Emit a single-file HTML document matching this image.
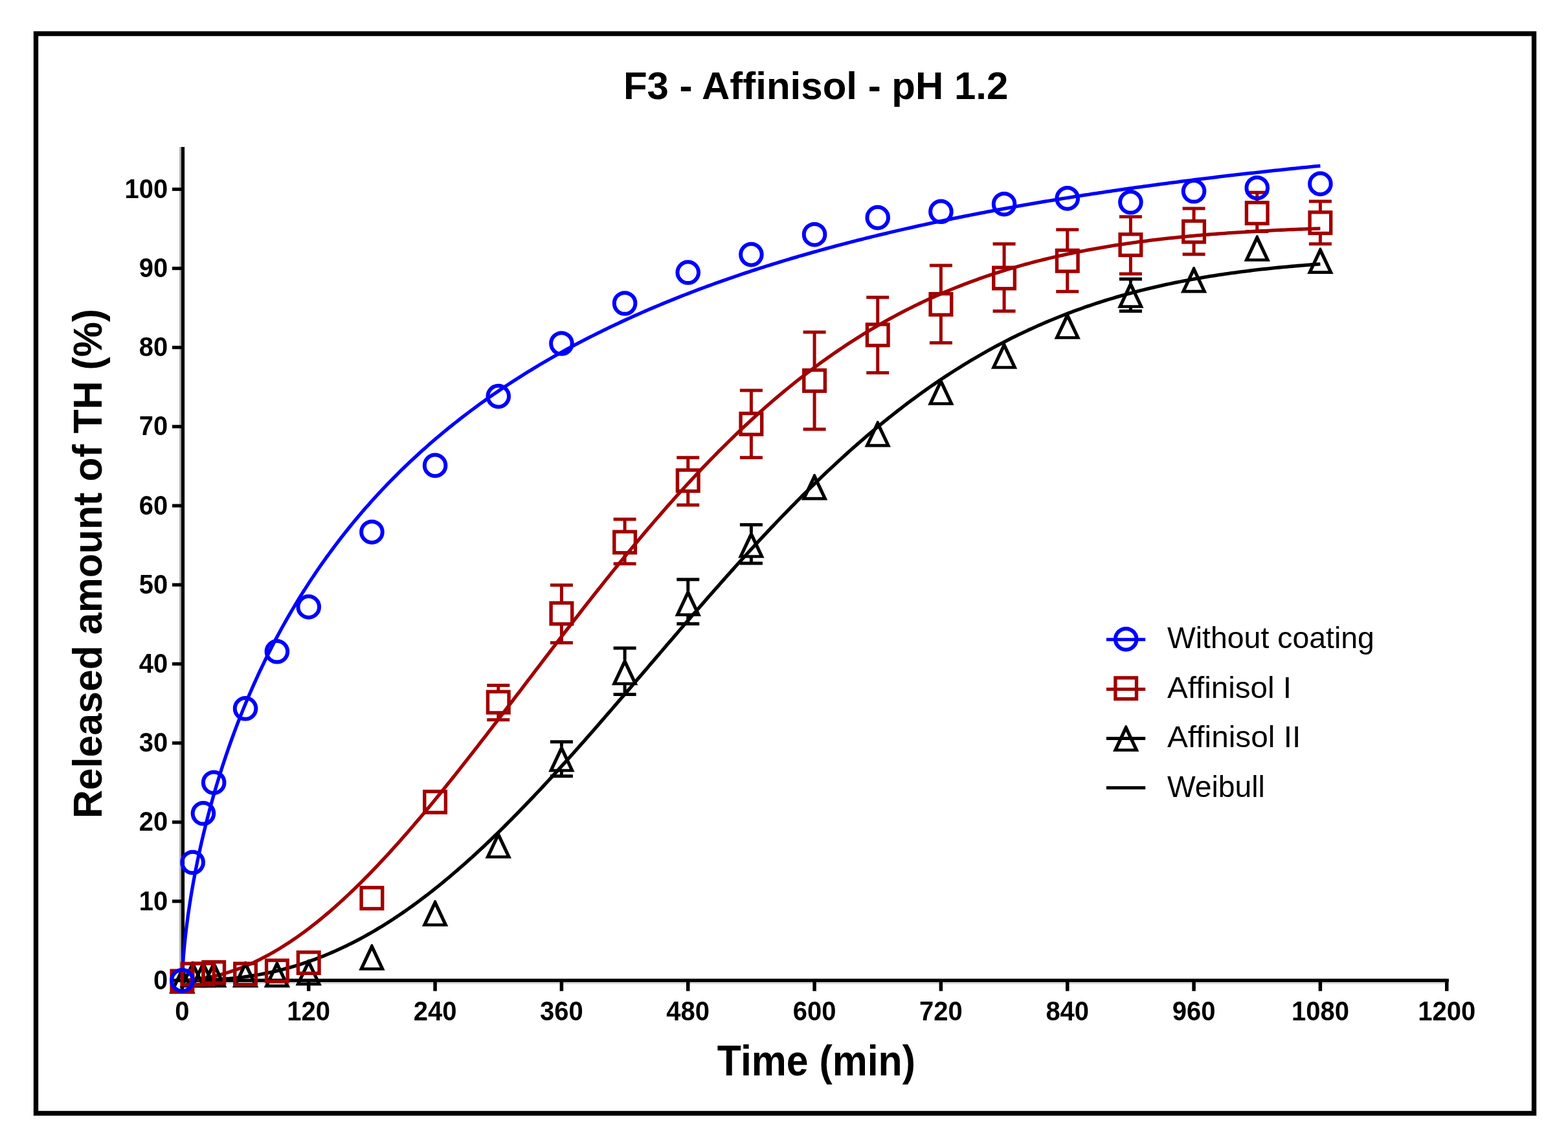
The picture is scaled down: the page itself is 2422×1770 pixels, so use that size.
<!DOCTYPE html><html><head><meta charset="utf-8"><style>html,body{margin:0;padding:0;background:#fff;}svg{display:block}</style></head><body>
<svg width="2422" height="1770" viewBox="0 0 2422 1770">
<rect x="0" y="0" width="2422" height="1770" fill="#fff"/>
<rect x="55.5" y="52" width="2314" height="1667.5" fill="none" stroke="#000" stroke-width="7.4"/>
<text x="962.9" y="152.8" font-family="Liberation Sans, Arial, sans-serif" font-weight="bold" font-size="60">F3 - Affinisol - pH 1.2</text>
<rect x="277.2" y="227" width="2.9" height="1291" fill="#aaa"/>
<rect x="280" y="227" width="5.1" height="1290" fill="#000"/>
<rect x="280" y="1516.9" width="1953" height="2.9" fill="#dadada"/>
<rect x="280" y="1511.6" width="1957.9" height="5.3" fill="#000"/>
<rect x="266" y="1511.60" width="15" height="5.2" fill="#000"/>
<text transform="translate(259.2,1527.70) scale(1,1.06)" text-anchor="end" font-family="Liberation Sans, Arial, sans-serif" font-weight="bold" font-size="40">0</text>
<rect x="266" y="1389.41" width="15" height="5.2" fill="#000"/>
<text transform="translate(259.2,1405.51) scale(1,1.06)" text-anchor="end" font-family="Liberation Sans, Arial, sans-serif" font-weight="bold" font-size="40">10</text>
<rect x="266" y="1267.22" width="15" height="5.2" fill="#000"/>
<text transform="translate(259.2,1283.32) scale(1,1.06)" text-anchor="end" font-family="Liberation Sans, Arial, sans-serif" font-weight="bold" font-size="40">20</text>
<rect x="266" y="1145.03" width="15" height="5.2" fill="#000"/>
<text transform="translate(259.2,1161.13) scale(1,1.06)" text-anchor="end" font-family="Liberation Sans, Arial, sans-serif" font-weight="bold" font-size="40">30</text>
<rect x="266" y="1022.84" width="15" height="5.2" fill="#000"/>
<text transform="translate(259.2,1038.94) scale(1,1.06)" text-anchor="end" font-family="Liberation Sans, Arial, sans-serif" font-weight="bold" font-size="40">40</text>
<rect x="266" y="900.65" width="15" height="5.2" fill="#000"/>
<text transform="translate(259.2,916.75) scale(1,1.06)" text-anchor="end" font-family="Liberation Sans, Arial, sans-serif" font-weight="bold" font-size="40">50</text>
<rect x="266" y="778.46" width="15" height="5.2" fill="#000"/>
<text transform="translate(259.2,794.56) scale(1,1.06)" text-anchor="end" font-family="Liberation Sans, Arial, sans-serif" font-weight="bold" font-size="40">60</text>
<rect x="266" y="656.27" width="15" height="5.2" fill="#000"/>
<text transform="translate(259.2,672.37) scale(1,1.06)" text-anchor="end" font-family="Liberation Sans, Arial, sans-serif" font-weight="bold" font-size="40">70</text>
<rect x="266" y="534.08" width="15" height="5.2" fill="#000"/>
<text transform="translate(259.2,550.18) scale(1,1.06)" text-anchor="end" font-family="Liberation Sans, Arial, sans-serif" font-weight="bold" font-size="40">80</text>
<rect x="266" y="411.89" width="15" height="5.2" fill="#000"/>
<text transform="translate(259.2,427.99) scale(1,1.06)" text-anchor="end" font-family="Liberation Sans, Arial, sans-serif" font-weight="bold" font-size="40">90</text>
<rect x="266" y="289.70" width="15" height="5.2" fill="#000"/>
<text transform="translate(259.2,305.80) scale(1,1.06)" text-anchor="end" font-family="Liberation Sans, Arial, sans-serif" font-weight="bold" font-size="40">100</text>
<rect x="278.65" y="1514" width="5.5" height="16.7" fill="#000"/>
<text transform="translate(281.40,1576.4) scale(1,1.06)" text-anchor="middle" font-family="Liberation Sans, Arial, sans-serif" font-weight="bold" font-size="40">0</text>
<rect x="473.98" y="1514" width="5.5" height="16.7" fill="#000"/>
<text transform="translate(476.73,1576.4) scale(1,1.06)" text-anchor="middle" font-family="Liberation Sans, Arial, sans-serif" font-weight="bold" font-size="40">120</text>
<rect x="669.32" y="1514" width="5.5" height="16.7" fill="#000"/>
<text transform="translate(672.07,1576.4) scale(1,1.06)" text-anchor="middle" font-family="Liberation Sans, Arial, sans-serif" font-weight="bold" font-size="40">240</text>
<rect x="864.65" y="1514" width="5.5" height="16.7" fill="#000"/>
<text transform="translate(867.40,1576.4) scale(1,1.06)" text-anchor="middle" font-family="Liberation Sans, Arial, sans-serif" font-weight="bold" font-size="40">360</text>
<rect x="1059.98" y="1514" width="5.5" height="16.7" fill="#000"/>
<text transform="translate(1062.73,1576.4) scale(1,1.06)" text-anchor="middle" font-family="Liberation Sans, Arial, sans-serif" font-weight="bold" font-size="40">480</text>
<rect x="1255.32" y="1514" width="5.5" height="16.7" fill="#000"/>
<text transform="translate(1258.07,1576.4) scale(1,1.06)" text-anchor="middle" font-family="Liberation Sans, Arial, sans-serif" font-weight="bold" font-size="40">600</text>
<rect x="1450.65" y="1514" width="5.5" height="16.7" fill="#000"/>
<text transform="translate(1453.40,1576.4) scale(1,1.06)" text-anchor="middle" font-family="Liberation Sans, Arial, sans-serif" font-weight="bold" font-size="40">720</text>
<rect x="1645.99" y="1514" width="5.5" height="16.7" fill="#000"/>
<text transform="translate(1648.74,1576.4) scale(1,1.06)" text-anchor="middle" font-family="Liberation Sans, Arial, sans-serif" font-weight="bold" font-size="40">840</text>
<rect x="1841.32" y="1514" width="5.5" height="16.7" fill="#000"/>
<text transform="translate(1844.07,1576.4) scale(1,1.06)" text-anchor="middle" font-family="Liberation Sans, Arial, sans-serif" font-weight="bold" font-size="40">960</text>
<rect x="2036.65" y="1514" width="5.5" height="16.7" fill="#000"/>
<text transform="translate(2039.40,1576.4) scale(1,1.06)" text-anchor="middle" font-family="Liberation Sans, Arial, sans-serif" font-weight="bold" font-size="40">1080</text>
<rect x="2231.99" y="1514" width="5.5" height="16.7" fill="#000"/>
<text transform="translate(2234.74,1576.4) scale(1,1.06)" text-anchor="middle" font-family="Liberation Sans, Arial, sans-serif" font-weight="bold" font-size="40">1200</text>
<text transform="translate(1108.8,1661.4) scale(0.935,1.02)" x="-1" y="0" font-family="Liberation Sans, Arial, sans-serif" font-weight="bold" font-size="65">Time (min)</text>
<text transform="translate(156.8,1260.1) rotate(-90) scale(0.997,1.035)" x="-4" y="0" font-family="Liberation Sans, Arial, sans-serif" font-weight="bold" font-size="61">Released amount of TH (%)</text>
<polyline points="281.40,1514.20 281.40,1514.20 281.40,1514.20 281.40,1514.20 281.41,1514.20 281.42,1514.20 281.43,1514.20 281.45,1514.20 281.48,1514.20 281.52,1514.20 281.56,1514.20 281.61,1514.20 281.67,1514.20 281.75,1514.20 281.83,1514.20 281.93,1514.20 282.05,1514.20 282.18,1514.20 282.32,1514.20 282.49,1514.20 282.67,1514.20 282.87,1514.20 283.09,1514.20 283.33,1514.20 283.59,1514.20 283.88,1514.20 284.19,1514.20 284.52,1514.20 284.88,1514.20 285.27,1514.20 285.68,1514.20 286.12,1514.20 286.59,1514.20 287.10,1514.20 287.63,1514.20 288.20,1514.20 288.80,1514.20 289.43,1514.20 290.10,1514.20 290.80,1514.19 291.54,1514.19 292.32,1514.19 293.14,1514.18 294.00,1514.18 294.90,1514.17 295.84,1514.17 296.83,1514.16 297.86,1514.15 298.93,1514.14 300.05,1514.13 301.21,1514.11 302.43,1514.10 303.69,1514.08 305.00,1514.06 306.36,1514.03 307.77,1514.01 309.24,1513.97 310.76,1513.94 312.33,1513.90 313.96,1513.86 318.28,1513.72 322.60,1513.56 326.93,1513.37 331.25,1513.15 335.58,1512.91 339.90,1512.63 344.23,1512.32 348.55,1511.98 352.88,1511.61 357.20,1511.21 361.52,1510.77 365.85,1510.30 370.17,1509.80 374.50,1509.26 378.82,1508.68 383.15,1508.07 387.47,1507.42 391.80,1506.73 396.12,1506.00 400.44,1505.24 404.77,1504.44 409.09,1503.60 413.42,1502.72 417.74,1501.80 422.07,1500.84 426.39,1499.84 430.72,1498.80 435.04,1497.72 439.36,1496.60 443.69,1495.43 448.01,1494.23 452.34,1492.98 456.66,1491.69 460.99,1490.36 465.31,1488.98 469.64,1487.57 473.96,1486.10 478.28,1484.60 482.61,1483.05 486.93,1481.46 491.26,1479.83 495.58,1478.15 499.91,1476.43 504.23,1474.67 508.55,1472.86 512.88,1471.01 517.20,1469.11 521.53,1467.17 525.85,1465.19 530.18,1463.16 534.50,1461.08 538.83,1458.97 543.15,1456.81 547.47,1454.60 551.80,1452.35 556.12,1450.06 560.45,1447.72 564.77,1445.34 569.10,1442.91 573.42,1440.45 577.75,1437.93 582.07,1435.38 586.39,1432.78 590.72,1430.14 595.04,1427.45 599.37,1424.72 603.69,1421.95 608.02,1419.13 612.34,1416.28 616.67,1413.38 620.99,1410.44 625.31,1407.45 629.64,1404.43 633.96,1401.36 638.29,1398.25 642.61,1395.10 646.94,1391.91 651.26,1388.68 655.59,1385.41 659.91,1382.10 664.23,1378.75 668.56,1375.36 672.88,1371.93 677.21,1368.46 681.53,1364.95 685.86,1361.41 690.18,1357.82 694.51,1354.20 698.83,1350.54 703.15,1346.85 707.48,1343.12 711.80,1339.35 716.13,1335.55 720.45,1331.71 724.78,1327.84 729.10,1323.93 733.43,1319.99 737.75,1316.01 742.07,1312.00 746.40,1307.96 750.72,1303.89 755.05,1299.78 759.37,1295.64 763.70,1291.48 768.02,1287.28 772.34,1283.05 776.67,1278.79 780.99,1274.50 785.32,1270.18 789.64,1265.84 793.97,1261.47 798.29,1257.07 802.62,1252.64 806.94,1248.19 811.26,1243.71 815.59,1239.20 819.91,1234.68 824.24,1230.12 828.56,1225.55 832.89,1220.95 837.21,1216.33 841.54,1211.68 845.86,1207.02 850.18,1202.33 854.51,1197.63 858.83,1192.90 863.16,1188.15 867.48,1183.39 871.81,1178.61 876.13,1173.81 880.46,1168.99 884.78,1164.16 889.10,1159.31 893.43,1154.45 897.75,1149.57 902.08,1144.68 906.40,1139.77 910.73,1134.85 915.05,1129.92 919.38,1124.98 923.70,1120.03 928.02,1115.06 932.35,1110.09 936.67,1105.10 941.00,1100.11 945.32,1095.11 949.65,1090.10 953.97,1085.09 958.30,1080.06 962.62,1075.04 966.94,1070.00 971.27,1064.96 975.59,1059.92 979.92,1054.88 984.24,1049.83 988.57,1044.78 992.89,1039.72 997.22,1034.67 1001.54,1029.61 1005.86,1024.56 1010.19,1019.51 1014.51,1014.45 1018.84,1009.40 1023.16,1004.35 1027.49,999.30 1031.81,994.26 1036.14,989.22 1040.46,984.18 1044.78,979.15 1049.11,974.13 1053.43,969.11 1057.76,964.09 1062.08,959.09 1066.41,954.09 1070.73,949.10 1075.05,944.12 1079.38,939.14 1083.70,934.18 1088.03,929.23 1092.35,924.29 1096.68,919.35 1101.00,914.43 1105.33,909.53 1109.65,904.63 1113.97,899.75 1118.30,894.88 1122.62,890.03 1126.95,885.18 1131.27,880.36 1135.60,875.55 1139.92,870.75 1144.25,865.98 1148.57,861.21 1152.89,856.47 1157.22,851.74 1161.54,847.03 1165.87,842.34 1170.19,837.67 1174.52,833.01 1178.84,828.38 1183.17,823.77 1187.49,819.17 1191.81,814.60 1196.14,810.05 1200.46,805.51 1204.79,801.00 1209.11,796.52 1213.44,792.05 1217.76,787.61 1222.09,783.19 1226.41,778.79 1230.73,774.42 1235.06,770.07 1239.38,765.74 1243.71,761.44 1248.03,757.17 1252.36,752.91 1256.68,748.69 1261.01,744.49 1265.33,740.31 1269.65,736.16 1273.98,732.04 1278.30,727.94 1282.63,723.88 1286.95,719.83 1291.28,715.82 1295.60,711.83 1299.93,707.87 1304.25,703.94 1308.57,700.03 1312.90,696.15 1317.22,692.30 1321.55,688.48 1325.87,684.69 1330.20,680.93 1334.52,677.19 1338.85,673.49 1343.17,669.81 1347.49,666.16 1351.82,662.55 1356.14,658.96 1360.47,655.40 1364.79,651.87 1369.12,648.37 1373.44,644.90 1377.76,641.46 1382.09,638.05 1386.41,634.66 1390.74,631.31 1395.06,627.99 1399.39,624.70 1403.71,621.44 1408.04,618.21 1412.36,615.01 1416.68,611.84 1421.01,608.70 1425.33,605.59 1429.66,602.51 1433.98,599.46 1438.31,596.44 1442.63,593.45 1446.96,590.49 1451.28,587.56 1455.60,584.66 1459.93,581.79 1464.25,578.96 1468.58,576.15 1472.90,573.37 1477.23,570.62 1481.55,567.90 1485.88,565.21 1490.20,562.55 1494.52,559.92 1498.85,557.31 1503.17,554.74 1507.50,552.20 1511.82,549.68 1516.15,547.20 1520.47,544.74 1524.80,542.31 1529.12,539.92 1533.44,537.55 1537.77,535.20 1542.09,532.89 1546.42,530.60 1550.74,528.35 1555.07,526.12 1559.39,523.92 1563.72,521.74 1568.04,519.60 1572.36,517.48 1576.69,515.38 1581.01,513.32 1585.34,511.28 1589.66,509.27 1593.99,507.29 1598.31,505.33 1602.64,503.39 1606.96,501.49 1611.28,499.61 1615.61,497.75 1619.93,495.92 1624.26,494.12 1628.58,492.34 1632.91,490.58 1637.23,488.86 1641.56,487.15 1645.88,485.47 1650.20,483.81 1654.53,482.18 1658.85,480.57 1663.18,478.99 1667.50,477.42 1671.83,475.89 1676.15,474.37 1680.47,472.88 1684.80,471.41 1689.12,469.96 1693.45,468.53 1697.77,467.13 1702.10,465.74 1706.42,464.38 1710.75,463.04 1715.07,461.72 1719.39,460.43 1723.72,459.15 1728.04,457.89 1732.37,456.66 1736.69,455.44 1741.02,454.24 1745.34,453.07 1749.67,451.91 1753.99,450.77 1758.31,449.65 1762.64,448.55 1766.96,447.47 1771.29,446.40 1775.61,445.36 1779.94,444.33 1784.26,443.32 1788.59,442.32 1792.91,441.35 1797.23,440.39 1801.56,439.45 1805.88,438.52 1810.21,437.61 1814.53,436.72 1818.86,435.84 1823.18,434.98 1827.51,434.13 1831.83,433.30 1836.15,432.49 1840.48,431.69 1844.80,430.90 1849.13,430.13 1853.45,429.38 1857.78,428.63 1862.10,427.91 1866.43,427.19 1870.75,426.49 1875.07,425.80 1879.40,425.13 1883.72,424.47 1888.05,423.82 1892.37,423.18 1896.70,422.56 1901.02,421.95 1905.35,421.35 1909.67,420.76 1913.99,420.18 1918.32,419.62 1922.64,419.07 1926.97,418.53 1931.29,418.00 1935.62,417.48 1939.94,416.97 1944.26,416.47 1948.59,415.98 1952.91,415.50 1957.24,415.03 1961.56,414.57 1965.89,414.12 1970.21,413.68 1974.54,413.25 1978.86,412.83 1983.18,412.42 1987.51,412.02 1991.83,411.62 1996.16,411.24 2000.48,410.86 2004.81,410.49 2009.13,410.13 2013.46,409.77 2017.78,409.43 2022.10,409.09 2026.43,408.76 2030.75,408.44 2035.08,408.12 2039.40,407.81" fill="none" stroke="#000000" stroke-width="5.3" stroke-linejoin="round"/>
<polyline points="281.40,1514.09 281.40,1514.09 281.40,1514.09 281.40,1514.09 281.41,1514.09 281.42,1514.09 281.43,1514.09 281.45,1514.09 281.48,1514.09 281.52,1514.09 281.56,1514.09 281.61,1514.08 281.67,1514.08 281.75,1514.08 281.83,1514.08 281.93,1514.07 282.05,1514.07 282.18,1514.07 282.32,1514.06 282.49,1514.06 282.67,1514.05 282.87,1514.04 283.09,1514.04 283.33,1514.03 283.59,1514.02 283.88,1514.00 284.19,1513.99 284.52,1513.98 284.88,1513.96 285.27,1513.95 285.68,1513.93 286.12,1513.91 286.59,1513.88 287.10,1513.86 287.63,1513.83 288.20,1513.80 288.80,1513.76 289.43,1513.72 290.10,1513.68 290.80,1513.63 291.54,1513.58 292.32,1513.52 293.14,1513.46 294.00,1513.40 294.90,1513.32 295.84,1513.24 296.83,1513.15 297.86,1513.05 298.93,1512.95 300.05,1512.83 301.21,1512.71 302.43,1512.57 303.69,1512.42 305.00,1512.26 306.36,1512.09 307.77,1511.90 309.24,1511.70 310.76,1511.48 312.33,1511.24 313.96,1510.98 318.28,1510.25 322.60,1509.44 326.93,1508.56 331.25,1507.61 335.58,1506.58 339.90,1505.47 344.23,1504.29 348.55,1503.04 352.88,1501.72 357.20,1500.32 361.52,1498.85 365.85,1497.31 370.17,1495.69 374.50,1494.00 378.82,1492.25 383.15,1490.42 387.47,1488.52 391.80,1486.55 396.12,1484.51 400.44,1482.40 404.77,1480.22 409.09,1477.97 413.42,1475.65 417.74,1473.27 422.07,1470.82 426.39,1468.30 430.72,1465.72 435.04,1463.07 439.36,1460.35 443.69,1457.57 448.01,1454.72 452.34,1451.81 456.66,1448.84 460.99,1445.81 465.31,1442.71 469.64,1439.55 473.96,1436.33 478.28,1433.05 482.61,1429.71 486.93,1426.31 491.26,1422.85 495.58,1419.33 499.91,1415.76 504.23,1412.13 508.55,1408.44 512.88,1404.70 517.20,1400.90 521.53,1397.05 525.85,1393.15 530.18,1389.19 534.50,1385.18 538.83,1381.12 543.15,1377.01 547.47,1372.85 551.80,1368.64 556.12,1364.38 560.45,1360.08 564.77,1355.73 569.10,1351.33 573.42,1346.89 577.75,1342.40 582.07,1337.87 586.39,1333.30 590.72,1328.68 595.04,1324.03 599.37,1319.33 603.69,1314.59 608.02,1309.82 612.34,1305.00 616.67,1300.15 620.99,1295.27 625.31,1290.34 629.64,1285.39 633.96,1280.39 638.29,1275.37 642.61,1270.31 646.94,1265.22 651.26,1260.10 655.59,1254.95 659.91,1249.78 664.23,1244.57 668.56,1239.34 672.88,1234.08 677.21,1228.79 681.53,1223.48 685.86,1218.14 690.18,1212.78 694.51,1207.40 698.83,1202.00 703.15,1196.58 707.48,1191.14 711.80,1185.68 716.13,1180.20 720.45,1174.70 724.78,1169.18 729.10,1163.65 733.43,1158.11 737.75,1152.55 742.07,1146.98 746.40,1141.39 750.72,1135.80 755.05,1130.19 759.37,1124.57 763.70,1118.95 768.02,1113.31 772.34,1107.67 776.67,1102.02 780.99,1096.36 785.32,1090.70 789.64,1085.04 793.97,1079.37 798.29,1073.69 802.62,1068.02 806.94,1062.34 811.26,1056.66 815.59,1050.98 819.91,1045.31 824.24,1039.63 828.56,1033.96 832.89,1028.28 837.21,1022.62 841.54,1016.95 845.86,1011.29 850.18,1005.64 854.51,999.99 858.83,994.35 863.16,988.72 867.48,983.09 871.81,977.48 876.13,971.87 880.46,966.27 884.78,960.69 889.10,955.11 893.43,949.55 897.75,944.00 902.08,938.47 906.40,932.94 910.73,927.43 915.05,921.94 919.38,916.46 923.70,911.00 928.02,905.55 932.35,900.12 936.67,894.71 941.00,889.32 945.32,883.95 949.65,878.59 953.97,873.26 958.30,867.94 962.62,862.65 966.94,857.37 971.27,852.12 975.59,846.89 979.92,841.68 984.24,836.50 988.57,831.34 992.89,826.20 997.22,821.08 1001.54,816.00 1005.86,810.93 1010.19,805.89 1014.51,800.88 1018.84,795.89 1023.16,790.93 1027.49,786.00 1031.81,781.09 1036.14,776.21 1040.46,771.36 1044.78,766.53 1049.11,761.74 1053.43,756.97 1057.76,752.23 1062.08,747.52 1066.41,742.84 1070.73,738.19 1075.05,733.57 1079.38,728.98 1083.70,724.42 1088.03,719.89 1092.35,715.39 1096.68,710.92 1101.00,706.49 1105.33,702.08 1109.65,697.71 1113.97,693.36 1118.30,689.05 1122.62,684.78 1126.95,680.53 1131.27,676.32 1135.60,672.13 1139.92,667.99 1144.25,663.87 1148.57,659.79 1152.89,655.74 1157.22,651.72 1161.54,647.73 1165.87,643.78 1170.19,639.87 1174.52,635.98 1178.84,632.13 1183.17,628.31 1187.49,624.53 1191.81,620.78 1196.14,617.06 1200.46,613.37 1204.79,609.72 1209.11,606.11 1213.44,602.52 1217.76,598.97 1222.09,595.45 1226.41,591.97 1230.73,588.52 1235.06,585.10 1239.38,581.72 1243.71,578.37 1248.03,575.05 1252.36,571.77 1256.68,568.52 1261.01,565.30 1265.33,562.12 1269.65,558.97 1273.98,555.85 1278.30,552.76 1282.63,549.71 1286.95,546.69 1291.28,543.70 1295.60,540.75 1299.93,537.83 1304.25,534.93 1308.57,532.08 1312.90,529.25 1317.22,526.45 1321.55,523.69 1325.87,520.96 1330.20,518.26 1334.52,515.59 1338.85,512.95 1343.17,510.34 1347.49,507.76 1351.82,505.22 1356.14,502.70 1360.47,500.22 1364.79,497.76 1369.12,495.34 1373.44,492.94 1377.76,490.58 1382.09,488.24 1386.41,485.93 1390.74,483.65 1395.06,481.40 1399.39,479.18 1403.71,476.99 1408.04,474.83 1412.36,472.69 1416.68,470.58 1421.01,468.50 1425.33,466.45 1429.66,464.43 1433.98,462.43 1438.31,460.46 1442.63,458.51 1446.96,456.59 1451.28,454.70 1455.60,452.83 1459.93,450.99 1464.25,449.18 1468.58,447.39 1472.90,445.63 1477.23,443.89 1481.55,442.17 1485.88,440.48 1490.20,438.82 1494.52,437.17 1498.85,435.56 1503.17,433.96 1507.50,432.39 1511.82,430.84 1516.15,429.32 1520.47,427.82 1524.80,426.34 1529.12,424.88 1533.44,423.44 1537.77,422.03 1542.09,420.64 1546.42,419.27 1550.74,417.92 1555.07,416.59 1559.39,415.28 1563.72,413.99 1568.04,412.73 1572.36,411.48 1576.69,410.25 1581.01,409.04 1585.34,407.86 1589.66,406.69 1593.99,405.54 1598.31,404.40 1602.64,403.29 1606.96,402.20 1611.28,401.12 1615.61,400.06 1619.93,399.02 1624.26,397.99 1628.58,396.99 1632.91,395.99 1637.23,395.02 1641.56,394.06 1645.88,393.12 1650.20,392.20 1654.53,391.29 1658.85,390.40 1663.18,389.52 1667.50,388.66 1671.83,387.81 1676.15,386.98 1680.47,386.16 1684.80,385.36 1689.12,384.57 1693.45,383.79 1697.77,383.03 1702.10,382.28 1706.42,381.55 1710.75,380.83 1715.07,380.12 1719.39,379.43 1723.72,378.74 1728.04,378.08 1732.37,377.42 1736.69,376.77 1741.02,376.14 1745.34,375.52 1749.67,374.91 1753.99,374.31 1758.31,373.73 1762.64,373.15 1766.96,372.59 1771.29,372.03 1775.61,371.49 1779.94,370.96 1784.26,370.44 1788.59,369.92 1792.91,369.42 1797.23,368.93 1801.56,368.45 1805.88,367.97 1810.21,367.51 1814.53,367.06 1818.86,366.61 1823.18,366.17 1827.51,365.75 1831.83,365.33 1836.15,364.92 1840.48,364.51 1844.80,364.12 1849.13,363.73 1853.45,363.35 1857.78,362.98 1862.10,362.62 1866.43,362.26 1870.75,361.92 1875.07,361.58 1879.40,361.24 1883.72,360.92 1888.05,360.60 1892.37,360.28 1896.70,359.98 1901.02,359.68 1905.35,359.38 1909.67,359.10 1913.99,358.81 1918.32,358.54 1922.64,358.27 1926.97,358.01 1931.29,357.75 1935.62,357.50 1939.94,357.25 1944.26,357.01 1948.59,356.77 1952.91,356.54 1957.24,356.32 1961.56,356.10 1965.89,355.88 1970.21,355.67 1974.54,355.46 1978.86,355.26 1983.18,355.07 1987.51,354.87 1991.83,354.69 1996.16,354.50 2000.48,354.32 2004.81,354.15 2009.13,353.98 2013.46,353.81 2017.78,353.65 2022.10,353.49 2026.43,353.33 2030.75,353.18 2035.08,353.03 2039.40,352.88" fill="none" stroke="#a00000" stroke-width="5.3" stroke-linejoin="round"/>
<polyline points="281.40,1514.20 281.40,1514.13 281.40,1513.93 281.40,1513.58 281.41,1513.10 281.42,1512.48 281.43,1511.72 281.45,1510.82 281.48,1509.79 281.52,1508.61 281.56,1507.29 281.61,1505.84 281.67,1504.25 281.75,1502.52 281.83,1500.65 281.93,1498.64 282.05,1496.50 282.18,1494.22 282.32,1491.81 282.49,1489.26 282.67,1486.58 282.87,1483.77 283.09,1480.82 283.33,1477.75 283.59,1474.54 283.88,1471.20 284.19,1467.73 284.52,1464.14 284.88,1460.42 285.27,1456.57 285.68,1452.60 286.12,1448.50 286.59,1444.29 287.10,1439.95 287.63,1435.49 288.20,1430.92 288.80,1426.23 289.43,1421.42 290.10,1416.50 290.80,1411.46 291.54,1406.32 292.32,1401.06 293.14,1395.70 294.00,1390.23 294.90,1384.65 295.84,1378.97 296.83,1373.19 297.86,1367.31 298.93,1361.33 300.05,1355.26 301.21,1349.09 302.43,1342.82 303.69,1336.47 305.00,1330.02 306.36,1323.49 307.77,1316.87 309.24,1310.17 310.76,1303.38 312.33,1296.52 313.96,1289.57 318.28,1271.85 322.60,1255.06 326.93,1239.09 331.25,1223.83 335.58,1209.21 339.90,1195.16 344.23,1181.63 348.55,1168.58 352.88,1155.96 357.20,1143.75 361.52,1131.90 365.85,1120.41 370.17,1109.24 374.50,1098.37 378.82,1087.79 383.15,1077.49 387.47,1067.43 391.80,1057.62 396.12,1048.04 400.44,1038.68 404.77,1029.52 409.09,1020.56 413.42,1011.80 417.74,1003.21 422.07,994.80 426.39,986.56 430.72,978.48 435.04,970.55 439.36,962.77 443.69,955.14 448.01,947.64 452.34,940.28 456.66,933.04 460.99,925.93 465.31,918.94 469.64,912.07 473.96,905.31 478.28,898.66 482.61,892.12 486.93,885.68 491.26,879.34 495.58,873.10 499.91,866.95 504.23,860.90 508.55,854.94 512.88,849.06 517.20,843.27 521.53,837.56 525.85,831.93 530.18,826.38 534.50,820.91 538.83,815.51 543.15,810.19 547.47,804.94 551.80,799.75 556.12,794.64 560.45,789.59 564.77,784.61 569.10,779.70 573.42,774.84 577.75,770.05 582.07,765.31 586.39,760.64 590.72,756.02 595.04,751.46 599.37,746.96 603.69,742.51 608.02,738.11 612.34,733.76 616.67,729.47 620.99,725.22 625.31,721.02 629.64,716.88 633.96,712.78 638.29,708.72 642.61,704.71 646.94,700.75 651.26,696.83 655.59,692.95 659.91,689.12 664.23,685.33 668.56,681.57 672.88,677.86 677.21,674.19 681.53,670.56 685.86,666.97 690.18,663.41 694.51,659.89 698.83,656.41 703.15,652.96 707.48,649.55 711.80,646.17 716.13,642.83 720.45,639.52 724.78,636.24 729.10,633.00 733.43,629.79 737.75,626.61 742.07,623.46 746.40,620.35 750.72,617.26 755.05,614.20 759.37,611.17 763.70,608.18 768.02,605.21 772.34,602.26 776.67,599.35 780.99,596.46 785.32,593.60 789.64,590.77 793.97,587.96 798.29,585.18 802.62,582.43 806.94,579.70 811.26,576.99 815.59,574.31 819.91,571.66 824.24,569.02 828.56,566.42 832.89,563.83 837.21,561.27 841.54,558.73 845.86,556.21 850.18,553.71 854.51,551.24 858.83,548.79 863.16,546.36 867.48,543.95 871.81,541.56 876.13,539.19 880.46,536.84 884.78,534.51 889.10,532.20 893.43,529.91 897.75,527.64 902.08,525.39 906.40,523.16 910.73,520.95 915.05,518.75 919.38,516.58 923.70,514.42 928.02,512.28 932.35,510.15 936.67,508.05 941.00,505.96 945.32,503.88 949.65,501.83 953.97,499.79 958.30,497.77 962.62,495.76 966.94,493.77 971.27,491.79 975.59,489.84 979.92,487.89 984.24,485.96 988.57,484.05 992.89,482.15 997.22,480.27 1001.54,478.40 1005.86,476.55 1010.19,474.71 1014.51,472.88 1018.84,471.07 1023.16,469.27 1027.49,467.49 1031.81,465.72 1036.14,463.96 1040.46,462.21 1044.78,460.48 1049.11,458.77 1053.43,457.06 1057.76,455.37 1062.08,453.69 1066.41,452.02 1070.73,450.37 1075.05,448.73 1079.38,447.10 1083.70,445.48 1088.03,443.87 1092.35,442.28 1096.68,440.70 1101.00,439.12 1105.33,437.57 1109.65,436.02 1113.97,434.48 1118.30,432.95 1122.62,431.44 1126.95,429.93 1131.27,428.44 1135.60,426.96 1139.92,425.49 1144.25,424.02 1148.57,422.57 1152.89,421.13 1157.22,419.70 1161.54,418.28 1165.87,416.87 1170.19,415.47 1174.52,414.08 1178.84,412.70 1183.17,411.32 1187.49,409.96 1191.81,408.61 1196.14,407.27 1200.46,405.93 1204.79,404.61 1209.11,403.29 1213.44,401.98 1217.76,400.69 1222.09,399.40 1226.41,398.12 1230.73,396.84 1235.06,395.58 1239.38,394.33 1243.71,393.08 1248.03,391.84 1252.36,390.61 1256.68,389.39 1261.01,388.18 1265.33,386.97 1269.65,385.78 1273.98,384.59 1278.30,383.41 1282.63,382.23 1286.95,381.07 1291.28,379.91 1295.60,378.76 1299.93,377.62 1304.25,376.48 1308.57,375.36 1312.90,374.24 1317.22,373.12 1321.55,372.02 1325.87,370.92 1330.20,369.83 1334.52,368.74 1338.85,367.67 1343.17,366.59 1347.49,365.53 1351.82,364.47 1356.14,363.42 1360.47,362.38 1364.79,361.34 1369.12,360.31 1373.44,359.29 1377.76,358.27 1382.09,357.26 1386.41,356.26 1390.74,355.26 1395.06,354.27 1399.39,353.28 1403.71,352.31 1408.04,351.33 1412.36,350.37 1416.68,349.41 1421.01,348.45 1425.33,347.50 1429.66,346.56 1433.98,345.62 1438.31,344.69 1442.63,343.76 1446.96,342.84 1451.28,341.93 1455.60,341.02 1459.93,340.12 1464.25,339.22 1468.58,338.33 1472.90,337.44 1477.23,336.56 1481.55,335.68 1485.88,334.81 1490.20,333.95 1494.52,333.09 1498.85,332.23 1503.17,331.38 1507.50,330.54 1511.82,329.70 1516.15,328.87 1520.47,328.04 1524.80,327.21 1529.12,326.39 1533.44,325.58 1537.77,324.77 1542.09,323.96 1546.42,323.16 1550.74,322.37 1555.07,321.58 1559.39,320.79 1563.72,320.01 1568.04,319.23 1572.36,318.46 1576.69,317.69 1581.01,316.93 1585.34,316.17 1589.66,315.42 1593.99,314.67 1598.31,313.92 1602.64,313.18 1606.96,312.44 1611.28,311.71 1615.61,310.98 1619.93,310.26 1624.26,309.54 1628.58,308.82 1632.91,308.11 1637.23,307.40 1641.56,306.70 1645.88,306.00 1650.20,305.30 1654.53,304.61 1658.85,303.92 1663.18,303.24 1667.50,302.56 1671.83,301.89 1676.15,301.21 1680.47,300.55 1684.80,299.88 1689.12,299.22 1693.45,298.56 1697.77,297.91 1702.10,297.26 1706.42,296.61 1710.75,295.97 1715.07,295.33 1719.39,294.70 1723.72,294.07 1728.04,293.44 1732.37,292.81 1736.69,292.19 1741.02,291.58 1745.34,290.96 1749.67,290.35 1753.99,289.74 1758.31,289.14 1762.64,288.54 1766.96,287.94 1771.29,287.35 1775.61,286.76 1779.94,286.17 1784.26,285.58 1788.59,285.00 1792.91,284.43 1797.23,283.85 1801.56,283.28 1805.88,282.71 1810.21,282.15 1814.53,281.58 1818.86,281.02 1823.18,280.47 1827.51,279.91 1831.83,279.36 1836.15,278.82 1840.48,278.27 1844.80,277.73 1849.13,277.19 1853.45,276.66 1857.78,276.13 1862.10,275.60 1866.43,275.07 1870.75,274.54 1875.07,274.02 1879.40,273.50 1883.72,272.99 1888.05,272.48 1892.37,271.97 1896.70,271.46 1901.02,270.95 1905.35,270.45 1909.67,269.95 1913.99,269.45 1918.32,268.96 1922.64,268.47 1926.97,267.98 1931.29,267.49 1935.62,267.01 1939.94,266.53 1944.26,266.05 1948.59,265.57 1952.91,265.10 1957.24,264.63 1961.56,264.16 1965.89,263.69 1970.21,263.23 1974.54,262.77 1978.86,262.31 1983.18,261.85 1987.51,261.40 1991.83,260.94 1996.16,260.50 2000.48,260.05 2004.81,259.60 2009.13,259.16 2013.46,258.72 2017.78,258.28 2022.10,257.85 2026.43,257.41 2030.75,256.98 2035.08,256.55 2039.40,256.12" fill="none" stroke="#0000ff" stroke-width="5.3" stroke-linejoin="round"/>
<path d="M280.20,1494.25 L282.60,1494.25 L301.60,1534.75 L261.20,1534.75 Z M281.40,1504.10 L293.80,1530.15 L269.00,1530.15 Z" fill="#000000" fill-rule="evenodd"/>
<path d="M296.48,1484.65 L298.88,1484.65 L317.88,1525.15 L277.48,1525.15 Z M297.68,1494.50 L310.08,1520.55 L285.28,1520.55 Z" fill="#000000" fill-rule="evenodd"/>
<path d="M312.76,1484.65 L315.16,1484.65 L334.16,1525.15 L293.76,1525.15 Z M313.96,1494.50 L326.36,1520.55 L301.56,1520.55 Z" fill="#000000" fill-rule="evenodd"/>
<path d="M329.03,1484.75 L331.43,1484.75 L350.43,1525.25 L310.03,1525.25 Z M330.23,1494.60 L342.63,1520.65 L317.83,1520.65 Z" fill="#000000" fill-rule="evenodd"/>
<path d="M377.87,1484.75 L380.27,1484.75 L399.27,1525.25 L358.87,1525.25 Z M379.07,1494.60 L391.47,1520.65 L366.67,1520.65 Z" fill="#000000" fill-rule="evenodd"/>
<path d="M426.70,1484.65 L429.10,1484.65 L448.10,1525.15 L407.70,1525.15 Z M427.90,1494.50 L440.30,1520.55 L415.50,1520.55 Z" fill="#000000" fill-rule="evenodd"/>
<path d="M475.53,1481.70 L477.93,1481.70 L496.93,1522.20 L456.53,1522.20 Z M476.73,1491.55 L489.13,1517.60 L464.33,1517.60 Z" fill="#000000" fill-rule="evenodd"/>
<path d="M573.20,1458.25 L575.60,1458.25 L594.60,1498.75 L554.20,1498.75 Z M574.40,1468.10 L586.80,1494.15 L562.00,1494.15 Z" fill="#000000" fill-rule="evenodd"/>
<path d="M670.87,1390.25 L673.27,1390.25 L692.27,1430.75 L651.87,1430.75 Z M672.07,1400.10 L684.47,1426.15 L659.67,1426.15 Z" fill="#000000" fill-rule="evenodd"/>
<path d="M768.53,1285.25 L770.93,1285.25 L789.93,1325.75 L749.53,1325.75 Z M769.73,1295.10 L782.13,1321.15 L757.33,1321.15 Z" fill="#000000" fill-rule="evenodd"/>
<line x1="867.40" y1="1145.70" x2="867.40" y2="1153.25" stroke="#000000" stroke-width="5"/><line x1="867.40" y1="1190.75" x2="867.40" y2="1198.80" stroke="#000000" stroke-width="5"/><line x1="849.90" y1="1145.70" x2="884.90" y2="1145.70" stroke="#000000" stroke-width="5"/><line x1="849.90" y1="1198.80" x2="884.90" y2="1198.80" stroke="#000000" stroke-width="5"/>
<path d="M866.20,1151.75 L868.60,1151.75 L887.60,1192.25 L847.20,1192.25 Z M867.40,1161.60 L879.80,1187.65 L855.00,1187.65 Z" fill="#000000" fill-rule="evenodd"/>
<line x1="965.07" y1="1001.00" x2="965.07" y2="1019.25" stroke="#000000" stroke-width="5"/><line x1="965.07" y1="1056.75" x2="965.07" y2="1072.40" stroke="#000000" stroke-width="5"/><line x1="947.57" y1="1001.00" x2="982.57" y2="1001.00" stroke="#000000" stroke-width="5"/><line x1="947.57" y1="1072.40" x2="982.57" y2="1072.40" stroke="#000000" stroke-width="5"/>
<path d="M963.87,1017.75 L966.27,1017.75 L985.27,1058.25 L944.87,1058.25 Z M965.07,1027.60 L977.47,1053.65 L952.67,1053.65 Z" fill="#000000" fill-rule="evenodd"/>
<line x1="1062.73" y1="894.90" x2="1062.73" y2="912.75" stroke="#000000" stroke-width="5"/><line x1="1062.73" y1="950.25" x2="1062.73" y2="963.50" stroke="#000000" stroke-width="5"/><line x1="1045.23" y1="894.90" x2="1080.23" y2="894.90" stroke="#000000" stroke-width="5"/><line x1="1045.23" y1="963.50" x2="1080.23" y2="963.50" stroke="#000000" stroke-width="5"/>
<path d="M1061.53,911.25 L1063.93,911.25 L1082.93,951.75 L1042.53,951.75 Z M1062.73,921.10 L1075.13,947.15 L1050.33,947.15 Z" fill="#000000" fill-rule="evenodd"/>
<line x1="1160.40" y1="810.50" x2="1160.40" y2="822.75" stroke="#000000" stroke-width="5"/><line x1="1160.40" y1="860.25" x2="1160.40" y2="870.00" stroke="#000000" stroke-width="5"/><line x1="1142.90" y1="810.50" x2="1177.90" y2="810.50" stroke="#000000" stroke-width="5"/><line x1="1142.90" y1="870.00" x2="1177.90" y2="870.00" stroke="#000000" stroke-width="5"/>
<path d="M1159.20,821.25 L1161.60,821.25 L1180.60,861.75 L1140.20,861.75 Z M1160.40,831.10 L1172.80,857.15 L1148.00,857.15 Z" fill="#000000" fill-rule="evenodd"/>
<path d="M1256.87,731.95 L1259.27,731.95 L1278.27,772.45 L1237.87,772.45 Z M1258.07,741.80 L1270.47,767.85 L1245.67,767.85 Z" fill="#000000" fill-rule="evenodd"/>
<path d="M1354.53,649.95 L1356.93,649.95 L1375.93,690.45 L1335.53,690.45 Z M1355.73,659.80 L1368.13,685.85 L1343.33,685.85 Z" fill="#000000" fill-rule="evenodd"/>
<path d="M1452.20,585.25 L1454.60,585.25 L1473.60,625.75 L1433.20,625.75 Z M1453.40,595.10 L1465.80,621.15 L1441.00,621.15 Z" fill="#000000" fill-rule="evenodd"/>
<path d="M1549.87,529.25 L1552.27,529.25 L1571.27,569.75 L1530.87,569.75 Z M1551.07,539.10 L1563.47,565.15 L1538.67,565.15 Z" fill="#000000" fill-rule="evenodd"/>
<path d="M1647.54,483.35 L1649.94,483.35 L1668.94,523.85 L1628.54,523.85 Z M1648.74,493.20 L1661.14,519.25 L1636.34,519.25 Z" fill="#000000" fill-rule="evenodd"/>
<line x1="1746.40" y1="430.90" x2="1746.40" y2="436.75" stroke="#000000" stroke-width="5"/><line x1="1746.40" y1="474.25" x2="1746.40" y2="480.50" stroke="#000000" stroke-width="5"/><line x1="1728.90" y1="430.90" x2="1763.90" y2="430.90" stroke="#000000" stroke-width="5"/><line x1="1728.90" y1="480.50" x2="1763.90" y2="480.50" stroke="#000000" stroke-width="5"/>
<path d="M1745.20,435.25 L1747.60,435.25 L1766.60,475.75 L1726.20,475.75 Z M1746.40,445.10 L1758.80,471.15 L1734.00,471.15 Z" fill="#000000" fill-rule="evenodd"/>
<path d="M1842.87,411.95 L1845.27,411.95 L1864.27,452.45 L1823.87,452.45 Z M1844.07,421.80 L1856.47,447.85 L1831.67,447.85 Z" fill="#000000" fill-rule="evenodd"/>
<path d="M1940.54,363.25 L1942.94,363.25 L1961.94,403.75 L1921.54,403.75 Z M1941.74,373.10 L1954.14,399.15 L1929.34,399.15 Z" fill="#000000" fill-rule="evenodd"/>
<path d="M2038.20,382.45 L2040.60,382.45 L2059.60,422.95 L2019.20,422.95 Z M2039.40,392.30 L2051.80,418.35 L2027.00,418.35 Z" fill="#000000" fill-rule="evenodd"/>
<rect x="265.10" y="1499.20" width="32.60" height="32.60" fill="none" stroke="#a00000" stroke-width="5.4"/>
<rect x="281.38" y="1488.30" width="32.60" height="32.60" fill="none" stroke="#a00000" stroke-width="5.4"/>
<rect x="297.66" y="1488.10" width="32.60" height="32.60" fill="none" stroke="#a00000" stroke-width="5.4"/>
<rect x="313.93" y="1485.70" width="32.60" height="32.60" fill="none" stroke="#a00000" stroke-width="5.4"/>
<rect x="362.77" y="1488.10" width="32.60" height="32.60" fill="none" stroke="#a00000" stroke-width="5.4"/>
<rect x="411.60" y="1483.20" width="32.60" height="32.60" fill="none" stroke="#a00000" stroke-width="5.4"/>
<rect x="460.43" y="1470.70" width="32.60" height="32.60" fill="none" stroke="#a00000" stroke-width="5.4"/>
<rect x="558.10" y="1370.90" width="32.60" height="32.60" fill="none" stroke="#a00000" stroke-width="5.4"/>
<rect x="655.77" y="1222.40" width="32.60" height="32.60" fill="none" stroke="#a00000" stroke-width="5.4"/>
<line x1="769.73" y1="1058.50" x2="769.73" y2="1067.30" stroke="#a00000" stroke-width="5"/><line x1="769.73" y1="1101.90" x2="769.73" y2="1111.80" stroke="#a00000" stroke-width="5"/><line x1="752.23" y1="1058.50" x2="787.23" y2="1058.50" stroke="#a00000" stroke-width="5"/><line x1="752.23" y1="1111.80" x2="787.23" y2="1111.80" stroke="#a00000" stroke-width="5"/>
<rect x="753.43" y="1068.30" width="32.60" height="32.60" fill="none" stroke="#a00000" stroke-width="5.4"/>
<line x1="867.40" y1="903.80" x2="867.40" y2="930.20" stroke="#a00000" stroke-width="5"/><line x1="867.40" y1="964.80" x2="867.40" y2="992.70" stroke="#a00000" stroke-width="5"/><line x1="849.90" y1="903.80" x2="884.90" y2="903.80" stroke="#a00000" stroke-width="5"/><line x1="849.90" y1="992.70" x2="884.90" y2="992.70" stroke="#a00000" stroke-width="5"/>
<rect x="851.10" y="931.20" width="32.60" height="32.60" fill="none" stroke="#a00000" stroke-width="5.4"/>
<line x1="965.07" y1="802.10" x2="965.07" y2="820.20" stroke="#a00000" stroke-width="5"/><line x1="965.07" y1="854.80" x2="965.07" y2="870.70" stroke="#a00000" stroke-width="5"/><line x1="947.57" y1="802.10" x2="982.57" y2="802.10" stroke="#a00000" stroke-width="5"/><line x1="947.57" y1="870.70" x2="982.57" y2="870.70" stroke="#a00000" stroke-width="5"/>
<rect x="948.77" y="821.20" width="32.60" height="32.60" fill="none" stroke="#a00000" stroke-width="5.4"/>
<line x1="1062.73" y1="706.80" x2="1062.73" y2="725.00" stroke="#a00000" stroke-width="5"/><line x1="1062.73" y1="759.60" x2="1062.73" y2="780.00" stroke="#a00000" stroke-width="5"/><line x1="1045.23" y1="706.80" x2="1080.23" y2="706.80" stroke="#a00000" stroke-width="5"/><line x1="1045.23" y1="780.00" x2="1080.23" y2="780.00" stroke="#a00000" stroke-width="5"/>
<rect x="1046.43" y="726.00" width="32.60" height="32.60" fill="none" stroke="#a00000" stroke-width="5.4"/>
<line x1="1160.40" y1="603.10" x2="1160.40" y2="637.50" stroke="#a00000" stroke-width="5"/><line x1="1160.40" y1="672.10" x2="1160.40" y2="706.70" stroke="#a00000" stroke-width="5"/><line x1="1142.90" y1="603.10" x2="1177.90" y2="603.10" stroke="#a00000" stroke-width="5"/><line x1="1142.90" y1="706.70" x2="1177.90" y2="706.70" stroke="#a00000" stroke-width="5"/>
<rect x="1144.10" y="638.50" width="32.60" height="32.60" fill="none" stroke="#a00000" stroke-width="5.4"/>
<line x1="1258.07" y1="512.90" x2="1258.07" y2="570.60" stroke="#a00000" stroke-width="5"/><line x1="1258.07" y1="605.20" x2="1258.07" y2="662.90" stroke="#a00000" stroke-width="5"/><line x1="1240.57" y1="512.90" x2="1275.57" y2="512.90" stroke="#a00000" stroke-width="5"/><line x1="1240.57" y1="662.90" x2="1275.57" y2="662.90" stroke="#a00000" stroke-width="5"/>
<rect x="1241.77" y="571.60" width="32.60" height="32.60" fill="none" stroke="#a00000" stroke-width="5.4"/>
<line x1="1355.73" y1="459.30" x2="1355.73" y2="500.00" stroke="#a00000" stroke-width="5"/><line x1="1355.73" y1="534.60" x2="1355.73" y2="575.70" stroke="#a00000" stroke-width="5"/><line x1="1338.23" y1="459.30" x2="1373.23" y2="459.30" stroke="#a00000" stroke-width="5"/><line x1="1338.23" y1="575.70" x2="1373.23" y2="575.70" stroke="#a00000" stroke-width="5"/>
<rect x="1339.43" y="501.00" width="32.60" height="32.60" fill="none" stroke="#a00000" stroke-width="5.4"/>
<line x1="1453.40" y1="410.00" x2="1453.40" y2="452.70" stroke="#a00000" stroke-width="5"/><line x1="1453.40" y1="487.30" x2="1453.40" y2="529.50" stroke="#a00000" stroke-width="5"/><line x1="1435.90" y1="410.00" x2="1470.90" y2="410.00" stroke="#a00000" stroke-width="5"/><line x1="1435.90" y1="529.50" x2="1470.90" y2="529.50" stroke="#a00000" stroke-width="5"/>
<rect x="1437.10" y="453.70" width="32.60" height="32.60" fill="none" stroke="#a00000" stroke-width="5.4"/>
<line x1="1551.07" y1="376.80" x2="1551.07" y2="412.20" stroke="#a00000" stroke-width="5"/><line x1="1551.07" y1="446.80" x2="1551.07" y2="480.40" stroke="#a00000" stroke-width="5"/><line x1="1533.57" y1="376.80" x2="1568.57" y2="376.80" stroke="#a00000" stroke-width="5"/><line x1="1533.57" y1="480.40" x2="1568.57" y2="480.40" stroke="#a00000" stroke-width="5"/>
<rect x="1534.77" y="413.20" width="32.60" height="32.60" fill="none" stroke="#a00000" stroke-width="5.4"/>
<line x1="1648.74" y1="354.70" x2="1648.74" y2="385.50" stroke="#a00000" stroke-width="5"/><line x1="1648.74" y1="420.10" x2="1648.74" y2="450.30" stroke="#a00000" stroke-width="5"/><line x1="1631.24" y1="354.70" x2="1666.24" y2="354.70" stroke="#a00000" stroke-width="5"/><line x1="1631.24" y1="450.30" x2="1666.24" y2="450.30" stroke="#a00000" stroke-width="5"/>
<rect x="1632.44" y="386.50" width="32.60" height="32.60" fill="none" stroke="#a00000" stroke-width="5.4"/>
<line x1="1746.40" y1="334.80" x2="1746.40" y2="360.80" stroke="#a00000" stroke-width="5"/><line x1="1746.40" y1="395.40" x2="1746.40" y2="423.00" stroke="#a00000" stroke-width="5"/><line x1="1728.90" y1="334.80" x2="1763.90" y2="334.80" stroke="#a00000" stroke-width="5"/><line x1="1728.90" y1="423.00" x2="1763.90" y2="423.00" stroke="#a00000" stroke-width="5"/>
<rect x="1730.10" y="361.80" width="32.60" height="32.60" fill="none" stroke="#a00000" stroke-width="5.4"/>
<line x1="1844.07" y1="322.10" x2="1844.07" y2="340.40" stroke="#a00000" stroke-width="5"/><line x1="1844.07" y1="375.00" x2="1844.07" y2="392.70" stroke="#a00000" stroke-width="5"/><line x1="1826.57" y1="322.10" x2="1861.57" y2="322.10" stroke="#a00000" stroke-width="5"/><line x1="1826.57" y1="392.70" x2="1861.57" y2="392.70" stroke="#a00000" stroke-width="5"/>
<rect x="1827.77" y="341.40" width="32.60" height="32.60" fill="none" stroke="#a00000" stroke-width="5.4"/>
<line x1="1941.74" y1="297.30" x2="1941.74" y2="311.80" stroke="#a00000" stroke-width="5"/><line x1="1941.74" y1="346.40" x2="1941.74" y2="357.50" stroke="#a00000" stroke-width="5"/><line x1="1924.24" y1="297.30" x2="1959.24" y2="297.30" stroke="#a00000" stroke-width="5"/><line x1="1924.24" y1="357.50" x2="1959.24" y2="357.50" stroke="#a00000" stroke-width="5"/>
<rect x="1925.44" y="312.80" width="32.60" height="32.60" fill="none" stroke="#a00000" stroke-width="5.4"/>
<line x1="2039.40" y1="311.00" x2="2039.40" y2="326.80" stroke="#a00000" stroke-width="5"/><line x1="2039.40" y1="361.40" x2="2039.40" y2="376.80" stroke="#a00000" stroke-width="5"/><line x1="2021.90" y1="311.00" x2="2056.90" y2="311.00" stroke="#a00000" stroke-width="5"/><line x1="2021.90" y1="376.80" x2="2056.90" y2="376.80" stroke="#a00000" stroke-width="5"/>
<rect x="2023.10" y="327.80" width="32.60" height="32.60" fill="none" stroke="#a00000" stroke-width="5.4"/>
<circle cx="281.40" cy="1514.40" r="16.3" fill="none" stroke="#0000ff" stroke-width="6"/>
<circle cx="297.68" cy="1332.00" r="16.3" fill="none" stroke="#0000ff" stroke-width="6"/>
<circle cx="313.96" cy="1256.30" r="16.3" fill="none" stroke="#0000ff" stroke-width="6"/>
<circle cx="330.23" cy="1208.70" r="16.3" fill="none" stroke="#0000ff" stroke-width="6"/>
<circle cx="379.07" cy="1094.30" r="16.3" fill="none" stroke="#0000ff" stroke-width="6"/>
<circle cx="427.90" cy="1006.30" r="16.3" fill="none" stroke="#0000ff" stroke-width="6"/>
<circle cx="476.73" cy="937.40" r="16.3" fill="none" stroke="#0000ff" stroke-width="6"/>
<circle cx="574.40" cy="821.70" r="16.3" fill="none" stroke="#0000ff" stroke-width="6"/>
<circle cx="672.07" cy="718.90" r="16.3" fill="none" stroke="#0000ff" stroke-width="6"/>
<circle cx="769.73" cy="612.10" r="16.3" fill="none" stroke="#0000ff" stroke-width="6"/>
<circle cx="867.40" cy="530.50" r="16.3" fill="none" stroke="#0000ff" stroke-width="6"/>
<circle cx="965.07" cy="468.50" r="16.3" fill="none" stroke="#0000ff" stroke-width="6"/>
<circle cx="1062.73" cy="420.80" r="16.3" fill="none" stroke="#0000ff" stroke-width="6"/>
<circle cx="1160.40" cy="393.10" r="16.3" fill="none" stroke="#0000ff" stroke-width="6"/>
<circle cx="1258.07" cy="362.20" r="16.3" fill="none" stroke="#0000ff" stroke-width="6"/>
<circle cx="1355.73" cy="336.10" r="16.3" fill="none" stroke="#0000ff" stroke-width="6"/>
<circle cx="1453.40" cy="326.80" r="16.3" fill="none" stroke="#0000ff" stroke-width="6"/>
<circle cx="1551.07" cy="315.20" r="16.3" fill="none" stroke="#0000ff" stroke-width="6"/>
<circle cx="1648.74" cy="306.40" r="16.3" fill="none" stroke="#0000ff" stroke-width="6"/>
<circle cx="1746.40" cy="312.30" r="16.3" fill="none" stroke="#0000ff" stroke-width="6"/>
<circle cx="1844.07" cy="295.30" r="16.3" fill="none" stroke="#0000ff" stroke-width="6"/>
<circle cx="1941.74" cy="290.20" r="16.3" fill="none" stroke="#0000ff" stroke-width="6"/>
<circle cx="2039.40" cy="283.90" r="16.3" fill="none" stroke="#0000ff" stroke-width="6"/>
<line x1="1708.9" y1="987.8" x2="1769.2" y2="987.8" stroke="#0000ff" stroke-width="5"/>
<circle cx="1739.20" cy="987.20" r="16.3" fill="none" stroke="#0000ff" stroke-width="6"/>
<line x1="1708.9" y1="1064.4" x2="1769.2" y2="1064.4" stroke="#a00000" stroke-width="5"/>
<rect x="1722.90" y="1046.90" width="32.60" height="32.60" fill="none" stroke="#a00000" stroke-width="5.4"/>
<line x1="1708.9" y1="1140.6" x2="1769.2" y2="1140.6" stroke="#000000" stroke-width="5"/>
<path d="M1738.00,1120.25 L1740.40,1120.25 L1759.40,1160.75 L1719.00,1160.75 Z M1739.20,1130.10 L1751.60,1156.15 L1726.80,1156.15 Z" fill="#000000" fill-rule="evenodd"/>
<line x1="1708.9" y1="1216.7" x2="1769.2" y2="1216.7" stroke="#000000" stroke-width="5"/>
<text transform="translate(1803.0,1001.4) scale(1.0548,1.048)" x="0" y="0" font-family="Liberation Sans, Arial, sans-serif" font-size="44">Without coating</text>
<text transform="translate(1803.0,1077.6) scale(1.0810,1.048)" x="0" y="0" font-family="Liberation Sans, Arial, sans-serif" font-size="44">Affinisol I</text>
<text transform="translate(1803.0,1154.4) scale(1.0860,1.048)" x="0" y="0" font-family="Liberation Sans, Arial, sans-serif" font-size="44">Affinisol II</text>
<text transform="translate(1803.0,1230.6) scale(1.0511,1.048)" x="0" y="0" font-family="Liberation Sans, Arial, sans-serif" font-size="44">Weibull</text>
</svg></body></html>
